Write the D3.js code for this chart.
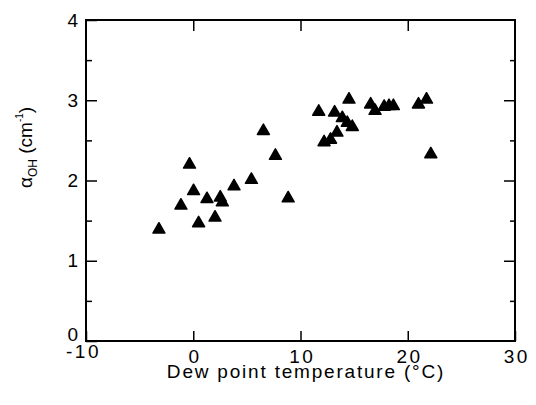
<!DOCTYPE html>
<html>
<head>
<meta charset="utf-8">
<script src="https://cdn.jsdelivr.net/npm/d3@7"></script>
<style>
  body { margin: 0; background: #fff; }
  svg { display: block; font-family: "Liberation Sans", Arial, Helvetica, sans-serif; }
</style>
</head>
<body>
<svg id="chart" width="536" height="405"></svg>
<script>
// dew point temperature (°C)
const dewPoint = [-3.2, -1.15, -0.35, 0.03, 0.5, 1.28, 2.03, 2.52, 2.71, 3.8,
    5.42, 6.54, 7.66, 8.85, 11.7, 12.2, 12.8, 13.4, 13.18, 13.9,
    14.36, 14.83, 14.52, 16.54, 16.95, 17.8, 18.25, 18.66, 21.0, 21.75, 22.15];
// alpha_OH (cm^-1)
const alphaOH = [1.40, 1.70, 2.21, 1.88, 1.48, 1.78, 1.55, 1.80, 1.74, 1.94,
    2.02, 2.63, 2.32, 1.79, 2.87, 2.49, 2.52, 2.61, 2.86, 2.79,
    2.73, 2.68, 3.02, 2.96, 2.88, 2.93, 2.94, 2.94, 2.96, 3.02, 2.34];

const xTicks = [-10, 0, 10, 20, 30];
const yTicks = [0, 1, 2, 3, 4];
const yMinorTicks = [0.5, 1.5, 2.5, 3.5];

const svg = d3.select("#chart");
const plotLeft = 86, plotRight = 515, plotTop = 20, plotBottom = 341;

const x = d3.scaleLinear().domain([-10, 30]).range([plotLeft, plotRight]);
const y = d3.scaleLinear().domain([0, 4]).range([plotBottom, plotTop]);

const plain = d => String(d);   // keep the ascii hyphen for -10

// bottom axis, ticks pointing in
const gx = svg.append("g")
    .attr("transform", "translate(0," + plotBottom + ")")
    .call(d3.axisBottom(x).tickValues(xTicks).tickFormat(plain)
        .tickSizeInner(-10).tickSizeOuter(0).tickPadding(9));
gx.selectAll("text").attr("dy", "0.71em").attr("letter-spacing", 2.5).attr("dx", 1.2);
// the -10 label sits a bit higher / left in the original
gx.selectAll(".tick").filter(d => d === -10).select("text").attr("y", 4).attr("dx", -3);

// top axis, no labels
svg.append("g")
    .attr("transform", "translate(0," + plotTop + ")")
    .call(d3.axisTop(x).tickValues(xTicks.slice(1, 4)).tickFormat("").tickSizeInner(-11).tickSizeOuter(0));

// left axis, major + minor
const gy = svg.append("g")
    .attr("transform", "translate(" + plotLeft + ",0)")
    .call(d3.axisLeft(y).tickValues(yTicks).tickFormat(plain)
        .tickSizeInner(-11).tickSizeOuter(0).tickPadding(8));
gy.selectAll(".tick").filter(d => d === 0).select("text").attr("dy", "-0.05em");
svg.append("g")
    .attr("transform", "translate(" + plotLeft + ",0)")
    .call(d3.axisLeft(y).tickValues(yMinorTicks).tickFormat("").tickSizeInner(-6).tickSizeOuter(0));

// right axis
svg.append("g")
    .attr("transform", "translate(" + plotRight + ",0)")
    .call(d3.axisRight(y).tickValues(yTicks.slice(1, 4)).tickFormat("").tickSizeInner(-11).tickSizeOuter(0));
svg.append("g")
    .attr("transform", "translate(" + plotRight + ",0)")
    .call(d3.axisRight(y).tickValues(yMinorTicks).tickFormat("").tickSizeInner(-5).tickSizeOuter(0));

svg.selectAll(".domain").remove();
svg.selectAll(".tick line").attr("stroke", "#000").attr("stroke-width", 1.5);
svg.selectAll(".tick text").attr("font-size", 19).attr("fill", "#000")
    .attr("font-family", "Liberation Sans, Arial, sans-serif");

// frame
svg.append("rect")
    .attr("x", plotLeft).attr("y", plotTop)
    .attr("width", plotRight - plotLeft).attr("height", plotBottom - plotTop)
    .attr("fill", "none").attr("stroke", "#000").attr("stroke-width", 2);

// points
const tri = d3.symbol().type(d3.symbolTriangle).size(62);
svg.append("g").selectAll("path")
    .data(d3.range(dewPoint.length))
    .join("path")
    .attr("d", tri)
    .attr("transform", i => "translate(" + x(dewPoint[i]) + "," + (y(alphaOH[i]) + 1) + ")")
    .attr("fill", "#000")
    .attr("stroke", "#000")
    .attr("stroke-width", 1.5)
    .attr("stroke-linejoin", "round");

// axis titles
svg.append("text")
    .attr("x", 306).attr("y", 378)
    .attr("text-anchor", "middle")
    .attr("font-size", 19)
    .attr("letter-spacing", 1.8)
    .text("Dew point temperature (°C)");

const yt = svg.append("text")
    .attr("transform", "translate(32,188) rotate(-90)")
    .attr("font-size", 19);
yt.append("tspan").text("α");
yt.append("tspan").attr("font-size", 12).attr("dy", 5).text("OH");
yt.append("tspan").attr("dy", -5).text(" (cm");
yt.append("tspan").attr("font-size", 10).attr("dy", -9).text("-1");
yt.append("tspan").attr("dy", 9).text(")");
</script>
</body>
</html>
